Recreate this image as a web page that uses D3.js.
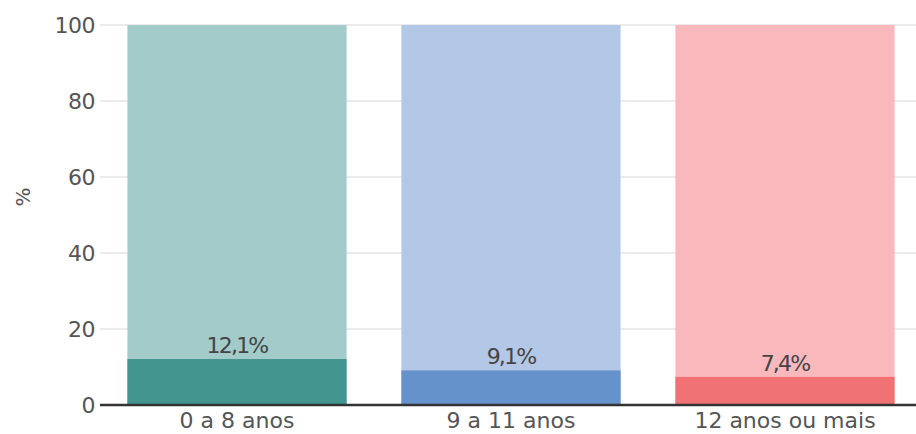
<!DOCTYPE html>
<html>
<head>
<meta charset="utf-8">
<script src="https://cdn.jsdelivr.net/npm/d3@7"></script>
<style>
  html, body { margin: 0; padding: 0; background: #fff; }
  svg { display: block; font-family: "DejaVu Sans", "Noto Sans", sans-serif; }
</style>
</head>
<body>
<svg id="chart" width="916" height="434"></svg>
<script>
// Schooling groups and the share (%) for each
const categories = ["0 a 8 anos", "9 a 11 anos", "12 anos ou mais"];
const shares = [12.1, 9.1, 7.4];
const valueLabels = ["12,1%", "9,1%", "7,4%"];
const yTicks = [0, 20, 40, 60, 80, 100];
const lightColors = ["#a2cbc9", "#b3c8e6", "#f9b8bb"];
const darkColors = ["#43968f", "#6692cc", "#f07274"];

const svg = d3.select("#chart");
const plotLeft = 100, plotRight = 922, plotTop = 25, plotBottom = 405;

const x = d3.scaleBand().domain(categories).range([plotLeft, plotRight])
  .paddingInner(0.2).paddingOuter(0.1);
const y = d3.scaleLinear().domain([0, 100]).range([plotBottom, plotTop]);

// gridlines
svg.append("g").selectAll("line").data(yTicks.filter(d => d > 0)).join("line")
  .attr("x1", plotLeft).attr("x2", 916)
  .attr("y1", d => y(d)).attr("y2", d => y(d))
  .attr("stroke", "#ebebeb").attr("stroke-width", 2);

// y tick labels
svg.append("g").selectAll("text").data(yTicks).join("text")
  .attr("x", 95).attr("y", d => y(d)).attr("dy", "0.36em")
  .attr("text-anchor", "end").attr("font-size", 22).attr("fill", "#555")
  .attr("letter-spacing", "-0.5")
  .text(d => d);

// axis title
svg.append("text")
  .attr("transform", "translate(30,197) rotate(-90)")
  .attr("text-anchor", "middle").attr("font-size", 20).attr("fill", "#555")
  .text("%");

// full-height background bars
svg.append("g").selectAll("rect").data(categories).join("rect")
  .attr("x", d => x(d)).attr("width", x.bandwidth())
  .attr("y", y(100)).attr("height", y(0) - y(100))
  .attr("fill", (d, i) => lightColors[i]);

// value bars
svg.append("g").selectAll("rect").data(categories).join("rect")
  .attr("x", d => x(d)).attr("width", x.bandwidth())
  .attr("y", (d, i) => y(shares[i])).attr("height", (d, i) => y(0) - y(shares[i]))
  .attr("fill", (d, i) => darkColors[i]);

// value labels
svg.append("g").selectAll("text").data(categories).join("text")
  .attr("x", d => x(d) + x.bandwidth() / 2)
  .attr("y", (d, i) => y(shares[i]) - 6)
  .attr("text-anchor", "middle").attr("font-size", 22).attr("fill", "#444")
  .attr("letter-spacing", "-1.8")
  .text((d, i) => valueLabels[i]);

// baseline
svg.append("line")
  .attr("x1", plotLeft).attr("x2", 916).attr("y1", y(0)).attr("y2", y(0))
  .attr("stroke", "#333").attr("stroke-width", 2.5);

// category labels
svg.append("g").selectAll("text").data(categories).join("text")
  .attr("x", d => x(d) + x.bandwidth() / 2).attr("y", 420).attr("dy", "0.36em")
  .attr("text-anchor", "middle").attr("font-size", 22).attr("fill", "#555")
  .text(d => d);
</script>
</body>
</html>
